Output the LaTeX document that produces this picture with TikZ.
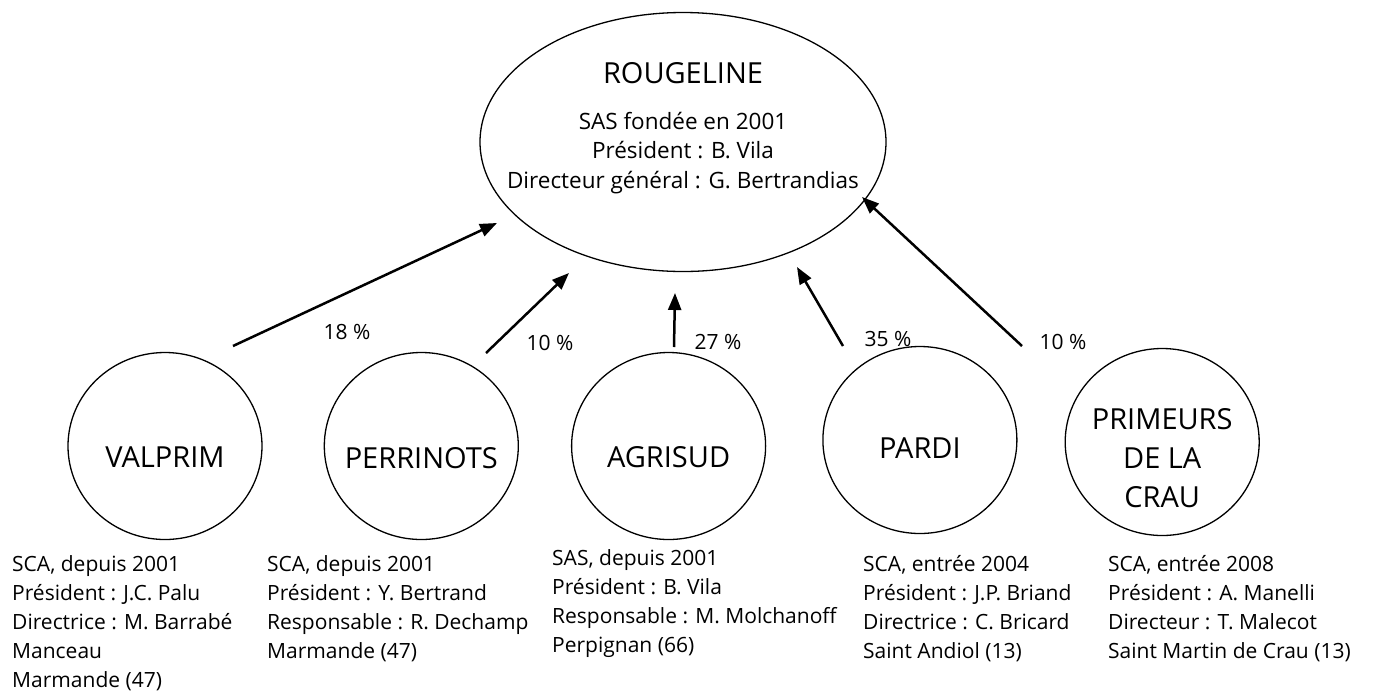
\documentclass[tikz,border=0pt]{standalone}
\usepackage{fontspec}
\setmainfont{Open Sans}
\usetikzlibrary{arrows.meta,chains,positioning,shapes.geometric}
\tikzset{
    holding/.style = {
        draw, ellipse,
        line width=1.3pt,
        minimum width=406pt,
        minimum height=259pt,
        },
    member/.style = {
        draw, ellipse,
        line width=1.3pt,
        minimum width=194pt,
        minimum height=187pt,
        inner sep=0pt,
        on chain,
        },
    title/.style = {
        align=center,
        font=\fontsize{29}{39}\selectfont,
        },
    info/.style = {
        inner sep=0pt,
        align=left,
        font=\fontsize{21}{29}\selectfont,
        },
    share/.style = {
        font=\fontsize{21}{29}\selectfont,
        },
    stake/.style = {
        line width=2.5pt,
        -{Triangle[length=17pt,width=13pt]},
        },
}

\begin{document}
\begin{tikzpicture}[
            x=1pt, y=-1pt,
            start chain = going right,
            node distance = 56pt,
            ]
            \useasboundingbox (0,0) rectangle (1376,697);

            \node [holding] (rougeline) at (683,142) {};
            \node [title] (rougeline name) at (683,73) {ROUGELINE};
            \node [info, align=center, font=\fontsize{22.5}{29.5}\selectfont] (rougeline info) at (683,153)
                {SAS fondée en 2001\\Président : B. Vila\\Directeur général : G. Bertrandias};

            \node [member, label={[title, yshift=-11pt]center:VALPRIM}] (valprim) at (165,446) {};
            \node [member, xshift=5pt, label={[title, yshift=-12pt]center:PERRINOTS}] (perrinots) {};
            \node [member, xshift=-4pt, label={[title, yshift=-11pt]center:AGRISUD}] (agrisud) {};
            \node [member, yshift=6pt, label={[title, yshift=-8pt]center:PARDI}] (pardi) {};
            \node [member, xshift=-9pt, yshift=-2pt, label={[title, yshift=-16pt]center:PRIMEURS\\DE LA\\CRAU}] (primeurs) {};

            \node [info, anchor=north west] (valprim info) at (12,555)
                {SCA, depuis 2001\\Président : J.C. Palu\\Directrice : M. Barrabé\\Manceau\\Marmande (47)};
            \node [info, anchor=north west] (perrinots info) at (267,555)
                {SCA, depuis 2001\\Président : Y. Bertrand\\Responsable : R. Dechamp\\Marmande (47)};
            \node [info, anchor=north west] (agrisud info) at (552,549)
                {SAS, depuis 2001\\Président : B. Vila\\Responsable : M. Molchanoff\\Perpignan (66)};
            \node [info, anchor=north west] (pardi info) at (863,555)
                {SCA, entrée 2004\\Président : J.P. Briand\\Directrice : C. Bricard\\Saint Andiol (13)};
            \node [info, anchor=north west] (primeurs info) at (1108,555)
                {SCA, entrée 2008\\Président : A. Manelli\\Directeur : T. Malecot\\Saint Martin de Crau (13)};

            \coordinate (valprim tail) at (233,346);
            \coordinate (valprim tip) at (497,223);
            \coordinate (perrinots tail) at (486,353);
            \coordinate (perrinots tip) at (569,273);
            \coordinate (agrisud tail) at (674,347);
            \coordinate (agrisud tip) at (675,293);
            \coordinate (pardi tail) at (843,346);
            \coordinate (pardi tip) at (797,267);
            \coordinate (primeurs tail) at (1022,346);
            \coordinate (primeurs tip) at (862,197);

            \draw [stake] (valprim tail) -- (valprim tip);
            \draw [stake] (perrinots tail) -- (perrinots tip);
            \draw [stake] (agrisud tail) -- (agrisud tip);
            \draw [stake] (pardi tail) -- (pardi tip);
            \draw [stake] (primeurs tail) -- (primeurs tip);

            \node [share] (valprim share) at (347,332) {18 \%};
            \node [share] (perrinots share) at (550,343) {10 \%};
            \node [share] (agrisud share) at (718,342) {27 \%};
            \node [share] (pardi share) at (888,339) {35 \%};
            \node [share] (primeurs share) at (1063,342) {10 \%};

        \end{tikzpicture}
\end{document}
